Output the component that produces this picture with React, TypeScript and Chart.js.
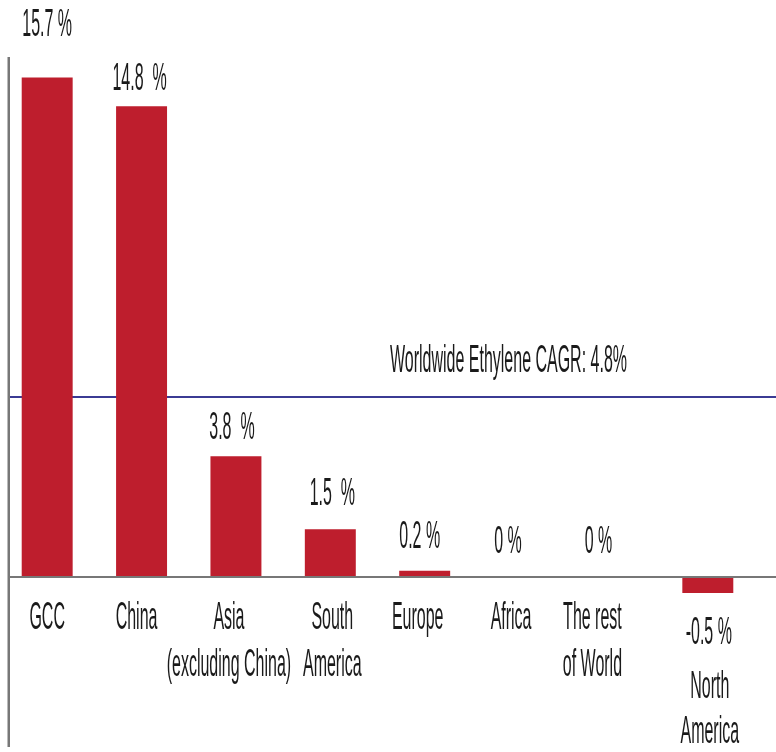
import React, { useEffect, useRef } from "react";
import { Chart, registerables } from "chart.js";

Chart.register(...registerables);

// ---- data ----
const categories: string[][] = [
  ["GCC"],
  ["China"],
  ["Asia", "(excluding China)"],
  ["South", "America"],
  ["Europe"],
  ["Africa"],
  ["The rest", "of World"],
  ["North", "America"],
];
const values: number[] = [15.7, 14.8, 3.8, 1.5, 0.2, 0, 0, -0.5];
const valueLabels: string[] = ["15.7 %", "14.8  %", "3.8  %", "1.5  %", "0.2 %", "0 %", "0 %", "-0.5 %"];
const worldCagrLabel = "Worldwide Ethylene CAGR: 4.8%";
const worldLineLevel = 5.66; // where the reference line sits on the bar scale
const yMin = -5.5;
const yMax = 18.14;

// ---- styling ----
const BAR_COLOR = "#BE1E2D";
const LINE_COLOR = "#3B3B94";
const AXIS_COLOR = "#777777";
const TEXT_COLOR = "#1a1a1a";
const FONT = "38px 'Liberation Sans', Arial, sans-serif";
const valueGap = [42, 16, 17, 24, 23, 24, 24, 51];
const valueNudge = [0, -2, -4, 2, -5, -11, -15, 1];
const catNudge = [0, -5, -7, 2, -7, -8, -21, 2];

function drawSqueezed(ctx: CanvasRenderingContext2D, text: string, x: number, y: number, sx: number, align: CanvasTextAlign) {
  ctx.save();
  ctx.translate(x, y);
  ctx.scale(sx, 1);
  ctx.textAlign = align;
  ctx.textBaseline = "alphabetic";
  ctx.fillText(text, 0, 0);
  ctx.restore();
}

const decorPlugin = {
  id: "decor",
  beforeDatasetsDraw(chart: any) {
    const ctx: CanvasRenderingContext2D = chart.ctx;
    const y = chart.scales.y.getPixelForValue(worldLineLevel);
    ctx.save();
    ctx.strokeStyle = LINE_COLOR;
    ctx.lineWidth = 2;
    ctx.beginPath();
    ctx.moveTo(9, y);
    ctx.lineTo(chart.width, y);
    ctx.stroke();
    ctx.restore();
  },
  afterDatasetsDraw(chart: any) {
    const ctx: CanvasRenderingContext2D = chart.ctx;
    const xs = chart.scales.x;
    const ys = chart.scales.y;
    const zeroY = ys.getPixelForValue(0);

    ctx.save();
    // zero line
    ctx.strokeStyle = AXIS_COLOR;
    ctx.lineWidth = 2;
    ctx.beginPath();
    ctx.moveTo(8, zeroY);
    ctx.lineTo(chart.width, zeroY);
    ctx.stroke();
    // vertical axis line
    ctx.lineWidth = 2.5;
    ctx.beginPath();
    ctx.moveTo(8.75, 57);
    ctx.lineTo(8.75, 747);
    ctx.stroke();

    ctx.font = FONT;
    ctx.fillStyle = TEXT_COLOR;
    const sx = 237 / ctx.measureText(worldCagrLabel).width;

    // reference line label
    const ly = ys.getPixelForValue(worldLineLevel);
    drawSqueezed(ctx, worldCagrLabel, 390, ly - 25, sx, "left");

    values.forEach((v, i) => {
      const cx = xs.getPixelForValue(i);
      const py = ys.getPixelForValue(v);
      if (v >= 0) {
        drawSqueezed(ctx, valueLabels[i], cx + valueNudge[i], py - valueGap[i], sx, "center");
        categories[i].forEach((line, k) => {
          drawSqueezed(ctx, line, cx + catNudge[i], zeroY + 52 + k * 47, sx, "center");
        });
      } else {
        const vb = py + valueGap[i];
        drawSqueezed(ctx, valueLabels[i], cx + valueNudge[i], vb, sx, "center");
        categories[i].forEach((line, k) => {
          drawSqueezed(ctx, line, cx + catNudge[i], vb + 54 + k * 45, sx, "center");
        });
      }
    });
    ctx.restore();
  },
};

export default function App() {
  const ref = useRef<HTMLCanvasElement | null>(null);
  useEffect(() => {
    document.body.style.margin = "0";
    const canvas = ref.current!;
    const chart = new Chart(canvas, {
      type: "bar",
      data: {
        labels: categories.map((c) => c.join(" ")),
        datasets: [
          {
            data: values,
            backgroundColor: BAR_COLOR,
            borderWidth: 0,
            barPercentage: 0.54,
            categoryPercentage: 1,
          },
        ],
      },
      options: {
        responsive: false,
        animation: false,
        devicePixelRatio: 1,
        layout: { padding: { left: -3, right: 21, top: 0, bottom: 0 } },
        plugins: { legend: { display: false }, tooltip: { enabled: false } },
        scales: {
          x: { display: false, offset: true },
          y: { display: false, min: yMin, max: yMax },
        },
      },
      plugins: [decorPlugin],
    });
    return () => chart.destroy();
  }, []);
  return (
    <div style={{ width: 776, height: 752, background: "#fff" }}>
      <canvas ref={ref} width={776} height={752} style={{ display: "block" }} />
    </div>
  );
}
